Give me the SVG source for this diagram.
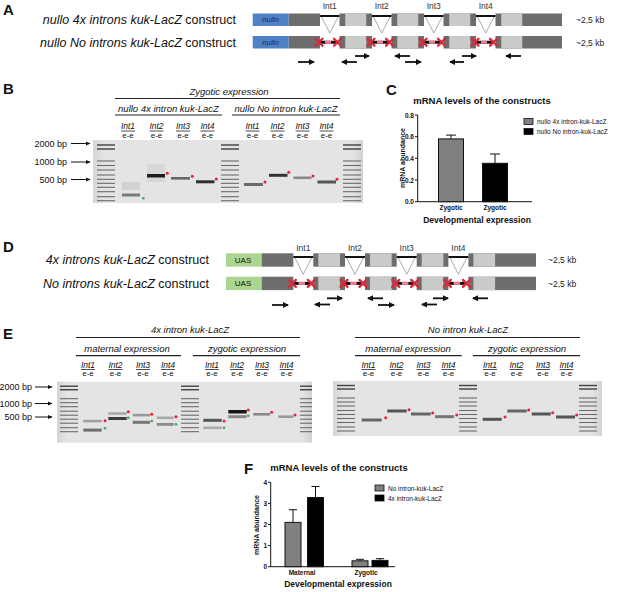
<svg xmlns="http://www.w3.org/2000/svg" width="617" height="592" viewBox="0 0 617 592">
<defs>
<style>
text{font-family:"Liberation Sans",Arial,sans-serif;fill:#111}
.pl{font-size:15px;font-weight:bold}
.cn{font-size:12.5px;text-anchor:end}
.it{font-style:italic}
.kb{font-size:8.5px;fill:#222}
.int{font-size:8.5px;text-anchor:middle;fill:#333}
.dk{fill:#6d6d6d}
.lt{fill:#c9cbc8}
.nul{fill:#4f81c9}
.uas{fill:#acd591}
.bx{font-size:8px;text-anchor:middle}
.il{stroke:#111;stroke-width:2}
.tri{fill:none;stroke:#888;stroke-width:0.7}
.xr{fill:none;stroke:#d9283a;stroke-width:2.4;stroke-linecap:round}
.bl{stroke:#111;stroke-width:3}
.pk{stroke:#e98090;stroke-width:3}
.pr{stroke:#111;stroke-width:1.8;marker-end:url(#ah)}
.hd{font-size:9.5px;font-style:italic;text-anchor:middle}
.rl{stroke:#222;stroke-width:1.2}
.ln{font-size:8.5px;font-style:italic;text-anchor:middle}
.ee{font-size:8px;text-anchor:middle}
.ul{stroke:#222;stroke-width:0.8}
.bp{font-size:9px;text-anchor:end}
.ba{stroke:#111;stroke-width:1;marker-end:url(#ah2)}
.lad line{stroke:#6a6a6a;stroke-width:1.1}
.rd{fill:#e8203c}
.gr{fill:#3aa84e}
.ax{stroke:#111;stroke-width:1;fill:none}
.tk{font-size:6.5px;font-weight:bold;text-anchor:end}
.ttl{font-size:9.5px;font-weight:bold;text-anchor:middle}
.xl{font-size:6.5px;font-weight:bold;text-anchor:middle}
.dev{font-size:8.5px;font-weight:bold;text-anchor:middle}
.lg{font-size:6.5px}
.yl{font-size:7px;font-weight:bold;text-anchor:middle}
.bd{filter:url(#blr)}
</style>
<marker id="ah" markerUnits="userSpaceOnUse" markerWidth="7" markerHeight="6" refX="5" refY="3" orient="auto"><path d="M0,0 L6,3 L0,6 z" fill="#111"/></marker>
<marker id="ah2" markerUnits="userSpaceOnUse" markerWidth="6" markerHeight="5" refX="4.5" refY="2.25" orient="auto"><path d="M0,0 L5,2.25 L0,4.5 z" fill="#111"/></marker>
<filter id="blr" x="-20%" y="-100%" width="140%" height="300%"><feGaussianBlur stdDeviation="0.5"/></filter>
<linearGradient id="gel" x1="0" y1="0" x2="1" y2="0"><stop offset="0" stop-color="#d4d4d4"/><stop offset="0.04" stop-color="#e4e4e4"/><stop offset="0.96" stop-color="#e4e4e4"/><stop offset="1" stop-color="#d2d2d2"/></linearGradient>
<path id="xm" d="M-3.5,-3.5 L3.5,3.5 M-3.5,3.5 L3.5,-3.5"/>
<g id="ladB" class="lad bd"><line x1="0" y1="5" x2="18" y2="5" style="stroke:#404040;stroke-width:1.4"/><line x1="0" y1="9" x2="18" y2="9" style="stroke:#404040;stroke-width:1.4"/><line x1="0" y1="21" x2="18" y2="21"/><line x1="0" y1="25.5" x2="18" y2="25.5"/><line x1="0" y1="30" x2="18" y2="30"/><line x1="0" y1="35" x2="18" y2="35"/><line x1="0" y1="39.3" x2="18" y2="39.3"/><line x1="0" y1="43.3" x2="18" y2="43.3"/><line x1="0" y1="47.3" x2="18" y2="47.3"/><line x1="0" y1="51.7" x2="18" y2="51.7"/><line x1="0" y1="56.7" x2="18" y2="56.7"/><line x1="0" y1="60.7" x2="18" y2="60.7"/></g>
<g id="ladE" class="lad bd"><line x1="0" y1="4.5" x2="18" y2="4.5" style="stroke:#404040;stroke-width:1.4"/><line x1="0" y1="8" x2="18" y2="8" style="stroke:#404040;stroke-width:1.4"/><line x1="0" y1="17" x2="18" y2="17"/><line x1="0" y1="21" x2="18" y2="21"/><line x1="0" y1="25" x2="18" y2="25"/><line x1="0" y1="29.5" x2="18" y2="29.5"/><line x1="0" y1="33.5" x2="18" y2="33.5"/><line x1="0" y1="37.5" x2="18" y2="37.5"/><line x1="0" y1="41.5" x2="18" y2="41.5"/><line x1="0" y1="46" x2="18" y2="46"/><line x1="0" y1="50" x2="18" y2="50"/></g>
</defs>
<rect width="617" height="592" fill="#fff"/>

<!-- ===== Panel A ===== -->
<g id="panelA">
<text class="pl" x="3" y="15">A</text>
<text class="cn" x="236" y="24"><tspan class="it">nullo 4x introns kuk-LacZ</tspan> construct</text>
<text class="cn" x="236" y="46.5"><tspan class="it">nullo No introns kuk-LacZ</tspan> construct</text>
<g id="A-intlabels">
<text class="int" x="329.75" y="9">Int1</text><text class="int" x="381.75" y="9">Int2</text><text class="int" x="433.75" y="9">Int3</text><text class="int" x="485.75" y="9">Int4</text>
</g>
<g id="A-construct1">
<rect class="nul" x="252.7" y="13.5" width="36" height="12.5"/><text class="bx it" x="270.5" y="22.3" style="fill:#1c2c55">nullo</text>
<rect class="dk" x="288.7" y="13.5" width="31.3" height="12.5"/>
<rect class="dk" x="339.5" y="13.5" width="32.5" height="12.5"/><rect class="lt" x="345.25" y="13.5" width="21" height="12.5"/>
<rect class="dk" x="391.5" y="13.5" width="32.5" height="12.5"/><rect class="lt" x="397.25" y="13.5" width="21" height="12.5"/>
<rect class="dk" x="443.5" y="13.5" width="32.5" height="12.5"/><rect class="lt" x="449.25" y="13.5" width="21" height="12.5"/>
<rect class="dk" x="495.5" y="13.5" width="66.5" height="12.5"/><rect class="lt" x="501.25" y="13.5" width="21" height="12.5"/>
<line class="il" x1="320" y1="16" x2="339.5" y2="16"/><line class="il" x1="372" y1="16" x2="391.5" y2="16"/><line class="il" x1="424" y1="16" x2="443.5" y2="16"/><line class="il" x1="476" y1="16" x2="495.5" y2="16"/>
<path class="tri" d="M321.5,17 L329.75,33 L338,17 M373.5,17 L381.75,33 L390,17 M425.5,17 L433.75,33 L442,17 M477.5,17 L485.75,33 L494,17"/>
<text class="kb" x="576" y="23">~2,5 kb</text>
</g>
<g id="A-construct2">
<rect class="nul" x="252.7" y="36" width="36" height="12.5"/><text class="bx it" x="270.5" y="44.8" style="fill:#1c2c55">nullo</text>
<rect class="dk" x="288.7" y="36" width="31.3" height="12.5"/>
<rect class="dk" x="339.5" y="36" width="32.5" height="12.5"/><rect class="lt" x="345.25" y="36" width="21" height="12.5"/>
<rect class="dk" x="391.5" y="36" width="32.5" height="12.5"/><rect class="lt" x="397.25" y="36" width="21" height="12.5"/>
<rect class="dk" x="443.5" y="36" width="32.5" height="12.5"/><rect class="lt" x="449.25" y="36" width="21" height="12.5"/>
<rect class="dk" x="495.5" y="36" width="66.5" height="12.5"/><rect class="lt" x="501.25" y="36" width="21" height="12.5"/>
<line class="bl" x1="319" y1="42.25" x2="337.5" y2="42.25"/><line class="pk" x1="325" y1="42.25" x2="331" y2="42.25"/>
<line class="bl" x1="371" y1="42.25" x2="389.5" y2="42.25"/><line class="pk" x1="377" y1="42.25" x2="383" y2="42.25"/>
<line class="bl" x1="423" y1="42.25" x2="441.5" y2="42.25"/><line class="pk" x1="429" y1="42.25" x2="435" y2="42.25"/>
<line class="bl" x1="475" y1="42.25" x2="493.5" y2="42.25"/><line class="pk" x1="481" y1="42.25" x2="487" y2="42.25"/>
<use href="#xm" class="xr" x="319" y="42.25"/><use href="#xm" class="xr" x="337.5" y="42.25"/>
<use href="#xm" class="xr" x="371" y="42.25"/><use href="#xm" class="xr" x="389.5" y="42.25"/>
<use href="#xm" class="xr" x="423" y="42.25"/><use href="#xm" class="xr" x="441.5" y="42.25"/>
<use href="#xm" class="xr" x="475" y="42.25"/><use href="#xm" class="xr" x="493.5" y="42.25"/>
<text class="kb" x="576" y="45.5">~2,5 kb</text>
</g>
<g id="A-primers">
<line class="pr" x1="298" y1="62" x2="314" y2="62"/>
<line class="pr" x1="357" y1="62" x2="342" y2="62"/>
<line class="pr" x1="355" y1="56" x2="369" y2="56"/>
<line class="pr" x1="410" y1="56" x2="395" y2="56"/>
<line class="pr" x1="405" y1="62" x2="421" y2="62"/>
<line class="pr" x1="464" y1="62" x2="450" y2="62"/>
<line class="pr" x1="462" y1="56" x2="476" y2="56"/>
<line class="pr" x1="521" y1="56" x2="506" y2="56"/>
</g>
</g>

<!-- ===== Panel B ===== -->
<g id="panelB">
<text class="pl" x="3" y="94">B</text>
<text class="hd" x="229" y="95">Zygotic expression</text>
<line class="rl" x1="115" y1="98.5" x2="340" y2="98.5"/>
<text class="hd" x="168.5" y="111.5">nullo 4x intron kuk-LacZ</text>
<line class="rl" x1="115" y1="115" x2="222" y2="115"/>
<text class="hd" x="286" y="111.5">nullo No intron kuk-LacZ</text>
<line class="rl" x1="232" y1="115" x2="340" y2="115"/>
<g id="B-lanes">
<text class="ln" x="128" y="129">Int1</text><line class="ul" x1="121" y1="131" x2="135" y2="131"/><text class="ee" x="128" y="137.5">e-e</text>
<text class="ln" x="156.5" y="129">Int2</text><line class="ul" x1="149.5" y1="131" x2="163.5" y2="131"/><text class="ee" x="156.5" y="137.5">e-e</text>
<text class="ln" x="183" y="129">Int3</text><line class="ul" x1="176" y1="131" x2="190" y2="131"/><text class="ee" x="183" y="137.5">e-e</text>
<text class="ln" x="207.5" y="129">Int4</text><line class="ul" x1="200.5" y1="131" x2="214.5" y2="131"/><text class="ee" x="207.5" y="137.5">e-e</text>
<text class="ln" x="252.5" y="129">Int1</text><line class="ul" x1="245.5" y1="131" x2="259.5" y2="131"/><text class="ee" x="252.5" y="137.5">e-e</text>
<text class="ln" x="277.5" y="129">Int2</text><line class="ul" x1="270.5" y1="131" x2="284.5" y2="131"/><text class="ee" x="277.5" y="137.5">e-e</text>
<text class="ln" x="302.5" y="129">Int3</text><line class="ul" x1="295.5" y1="131" x2="309.5" y2="131"/><text class="ee" x="302.5" y="137.5">e-e</text>
<text class="ln" x="326.5" y="129">Int4</text><line class="ul" x1="319.5" y1="131" x2="333.5" y2="131"/><text class="ee" x="326.5" y="137.5">e-e</text>
</g>
<g id="B-sizes">
<text class="bp" x="67" y="146.5">2000 bp</text><line class="ba" x1="71" y1="143.5" x2="90" y2="143.5"/>
<text class="bp" x="67" y="165">1000 bp</text><line class="ba" x1="71" y1="162" x2="90" y2="162"/>
<text class="bp" x="67" y="182.5">500 bp</text><line class="ba" x1="71" y1="179.5" x2="90" y2="179.5"/>
</g>
<g id="B-gel">
<rect x="93" y="140" width="270" height="63" fill="url(#gel)"/>
<use href="#ladB" x="97" y="140"/><use href="#ladB" x="221" y="140"/><use href="#ladB" x="343" y="140"/>
<g class="bd">
<rect x="122" y="182" width="18" height="8" fill="#d2d2d2"/>
<rect x="122" y="193.5" width="18" height="3" fill="#7a7a7a"/>
<rect x="147" y="164" width="18" height="18" fill="#d8d8d8"/>
<rect x="147" y="174" width="18" height="3.5" fill="#1e1e1e"/>
<rect x="171" y="177" width="19" height="2.6" fill="#666"/>
<rect x="196" y="180.3" width="18.5" height="3" fill="#2e2e2e"/>
<rect x="244" y="183" width="19" height="3" fill="#6a6a6a"/>
<rect x="269" y="173.8" width="18.5" height="3" fill="#333"/>
<rect x="293.5" y="176.5" width="18" height="2.6" fill="#888"/>
<rect x="317.5" y="180.5" width="18.5" height="3" fill="#555"/>
</g>
<circle class="gr" cx="143.3" cy="198.3" r="1.3"/>
<circle class="rd" cx="167.3" cy="173.3" r="1.5"/><circle class="rd" cx="192.3" cy="176.3" r="1.5"/><circle class="rd" cx="216.3" cy="179" r="1.5"/>
<circle class="rd" cx="265" cy="182" r="1.5"/><circle class="rd" cx="288.7" cy="172.3" r="1.5"/><circle class="rd" cx="313" cy="176" r="1.5"/><circle class="rd" cx="337" cy="179.3" r="1.5"/>
</g>
</g>

<!-- ===== Panel C ===== -->
<g id="panelC">
<text class="pl" x="386" y="95">C</text>
<text class="ttl" x="482" y="103.5">mRNA levels of the constructs</text>
<text class="yl" transform="translate(405,158) rotate(-90)">mRNA abundance</text>
<g id="C-axes">
<path class="ax" d="M417.7,115 V201.7 H532"/>
<path class="ax" d="M415,115 H417.7 M415,136.7 H417.7 M415,158.3 H417.7 M415,180 H417.7 M415,201.7 H417.7"/>
<text class="tk" x="414" y="117.5">0.8</text><text class="tk" x="414" y="139.2">0.6</text><text class="tk" x="414" y="160.8">0.4</text><text class="tk" x="414" y="182.5">0.2</text><text class="tk" x="414" y="204.2">0.0</text>
</g>
<g id="C-bars">
<path class="ax" d="M451,138.9 V135.1 M446,135.1 H456"/>
<rect x="438.5" y="138.9" width="25" height="62.8" fill="#808080" stroke="#111" stroke-width="1"/>
<path class="ax" d="M495,163.3 V154 M490,154 H500"/>
<rect x="482.5" y="163.3" width="25" height="38.4" fill="#000" stroke="#111" stroke-width="1"/>
</g>
<text class="xl" x="451" y="210">Zygotic</text><text class="xl" x="495" y="210">Zygotic</text>
<text class="dev" x="477" y="223">Developmental expression</text>
<g id="C-legend">
<rect x="524" y="118.5" width="9" height="6" fill="#808080" stroke="#111" stroke-width="0.8"/><text class="lg" x="537" y="124">nullo 4x intron-kuk-LacZ</text>
<rect x="524" y="128.5" width="9" height="6" fill="#000" stroke="#111" stroke-width="0.8"/><text class="lg" x="537" y="134">nullo No intron-kuk-LacZ</text>
</g>
</g>

<!-- ===== Panel D ===== -->
<g id="panelD">
<text class="pl" x="3" y="252">D</text>
<text class="cn" x="209" y="264"><tspan class="it">4x introns kuk-LacZ</tspan> construct</text>
<text class="cn" x="209" y="287.5"><tspan class="it">No introns kuk-LacZ</tspan> construct</text>
<g id="D-intlabels">
<text class="int" x="303.3" y="251">Int1</text><text class="int" x="355" y="251">Int2</text><text class="int" x="406.7" y="251">Int3</text><text class="int" x="458.4" y="251">Int4</text>
</g>
<g id="D-construct1">
<rect class="uas" x="226" y="253.3" width="35.7" height="13.4"/><text class="bx" x="243" y="262.8">UAS</text>
<rect class="dk" x="261.7" y="253.3" width="31.6" height="13.4"/>
<rect class="dk" x="313.3" y="253.3" width="31.7" height="13.4"/><rect class="lt" x="318.3" y="253.3" width="21.7" height="13.4"/>
<rect class="dk" x="365" y="253.3" width="31.7" height="13.4"/><rect class="lt" x="370" y="253.3" width="21.7" height="13.4"/>
<rect class="dk" x="416.7" y="253.3" width="31.7" height="13.4"/><rect class="lt" x="421.7" y="253.3" width="21.7" height="13.4"/>
<rect class="dk" x="468.4" y="253.3" width="67.6" height="13.4"/><rect class="lt" x="473.4" y="253.3" width="21.7" height="13.4"/>
<line class="il" x1="293.3" y1="257" x2="313.3" y2="257"/><line class="il" x1="345" y1="257" x2="365" y2="257"/><line class="il" x1="396.7" y1="257" x2="416.7" y2="257"/><line class="il" x1="448.4" y1="257" x2="468.4" y2="257"/>
<path class="tri" d="M295,258 L303.3,274.3 L311.6,258 M346.7,258 L355,274.3 L363.3,258 M398.4,258 L406.7,274.3 L415,258 M450.1,258 L458.4,274.3 L466.7,258"/>
<text class="kb" x="548" y="263">~2,5 kb</text>
</g>
<g id="D-construct2">
<rect class="uas" x="226" y="276.7" width="35.7" height="13.4"/><text class="bx" x="243" y="286.2">UAS</text>
<rect class="dk" x="261.7" y="276.7" width="31.6" height="13.4"/>
<rect class="dk" x="313.3" y="276.7" width="31.7" height="13.4"/><rect class="lt" x="318.3" y="276.7" width="21.7" height="13.4"/>
<rect class="dk" x="365" y="276.7" width="31.7" height="13.4"/><rect class="lt" x="370" y="276.7" width="21.7" height="13.4"/>
<rect class="dk" x="416.7" y="276.7" width="31.7" height="13.4"/><rect class="lt" x="421.7" y="276.7" width="21.7" height="13.4"/>
<rect class="dk" x="468.4" y="276.7" width="67.6" height="13.4"/><rect class="lt" x="473.4" y="276.7" width="21.7" height="13.4"/>
<line class="bl" x1="292.3" y1="283.4" x2="311.3" y2="283.4"/><line class="pk" x1="298.5" y1="283.4" x2="305" y2="283.4"/>
<line class="bl" x1="344" y1="283.4" x2="363" y2="283.4"/><line class="pk" x1="350.2" y1="283.4" x2="356.7" y2="283.4"/>
<line class="bl" x1="395.7" y1="283.4" x2="414.7" y2="283.4"/><line class="pk" x1="401.9" y1="283.4" x2="408.4" y2="283.4"/>
<line class="bl" x1="447.4" y1="283.4" x2="466.4" y2="283.4"/><line class="pk" x1="453.6" y1="283.4" x2="460.1" y2="283.4"/>
<use href="#xm" class="xr" x="292.3" y="283.4"/><use href="#xm" class="xr" x="311.3" y="283.4"/>
<use href="#xm" class="xr" x="344" y="283.4"/><use href="#xm" class="xr" x="363" y="283.4"/>
<use href="#xm" class="xr" x="395.7" y="283.4"/><use href="#xm" class="xr" x="414.7" y="283.4"/>
<use href="#xm" class="xr" x="447.4" y="283.4"/><use href="#xm" class="xr" x="466.4" y="283.4"/>
<text class="kb" x="548" y="286.5">~2,5 kb</text>
</g>
<g id="D-primers">
<line class="pr" x1="272" y1="305" x2="288" y2="305"/>
<line class="pr" x1="330" y1="304.5" x2="315" y2="304.5"/>
<line class="pr" x1="327" y1="298.3" x2="342" y2="298.3"/>
<line class="pr" x1="383" y1="298.3" x2="368" y2="298.3"/>
<line class="pr" x1="378" y1="305" x2="394" y2="305"/>
<line class="pr" x1="437" y1="304.5" x2="422" y2="304.5"/>
<line class="pr" x1="433" y1="298.3" x2="448" y2="298.3"/>
<line class="pr" x1="488" y1="298.3" x2="473" y2="298.3"/>
</g>
</g>

<!-- ===== Panel E ===== -->
<g id="panelE">
<text class="pl" x="3" y="339">E</text>
<g id="E-left-head">
<text class="hd" x="190" y="333">4x intron kuk-LacZ</text>
<line class="rl" x1="76" y1="337.5" x2="300" y2="337.5"/>
<text class="hd" x="127" y="351.5">maternal expression</text>
<line class="rl" x1="76" y1="355.7" x2="181" y2="355.7"/>
<text class="hd" x="247" y="351.5">zygotic expression</text>
<line class="rl" x1="193" y1="355.7" x2="300" y2="355.7"/>
<text class="ln" x="88" y="367.5">Int1</text><line class="ul" x1="81" y1="369.5" x2="95" y2="369.5"/><text class="ee" x="88" y="376">e-e</text>
<text class="ln" x="115.5" y="367.5">Int2</text><line class="ul" x1="108.5" y1="369.5" x2="122.5" y2="369.5"/><text class="ee" x="115.5" y="376">e-e</text>
<text class="ln" x="143" y="367.5">Int3</text><line class="ul" x1="136" y1="369.5" x2="150" y2="369.5"/><text class="ee" x="143" y="376">e-e</text>
<text class="ln" x="168" y="367.5">Int4</text><line class="ul" x1="161" y1="369.5" x2="175" y2="369.5"/><text class="ee" x="168" y="376">e-e</text>
<text class="ln" x="212" y="367.5">Int1</text><line class="ul" x1="205" y1="369.5" x2="219" y2="369.5"/><text class="ee" x="212" y="376">e-e</text>
<text class="ln" x="237" y="367.5">Int2</text><line class="ul" x1="230" y1="369.5" x2="244" y2="369.5"/><text class="ee" x="237" y="376">e-e</text>
<text class="ln" x="262" y="367.5">Int3</text><line class="ul" x1="255" y1="369.5" x2="269" y2="369.5"/><text class="ee" x="262" y="376">e-e</text>
<text class="ln" x="286.5" y="367.5">Int4</text><line class="ul" x1="279.5" y1="369.5" x2="293.5" y2="369.5"/><text class="ee" x="286.5" y="376">e-e</text>
</g>
<g id="E-sizes">
<text class="bp" x="32" y="390">2000 bp</text><line class="ba" x1="35" y1="387" x2="52" y2="387"/>
<text class="bp" x="32" y="406.5">1000 bp</text><line class="ba" x1="35" y1="403.5" x2="52" y2="403.5"/>
<text class="bp" x="32" y="420">500 bp</text><line class="ba" x1="35" y1="417" x2="52" y2="417"/>
</g>
<g id="E-left-gel">
<rect x="57" y="381.7" width="255" height="61" fill="url(#gel)"/>
<use href="#ladE" x="60" y="381.7"/><use href="#ladE" x="181" y="381.7"/>
<use href="#ladE" transform="translate(300,381.7) scale(0.67,1)"/>
<g class="bd">
<rect x="83.3" y="419.8" width="18.4" height="2.6" fill="#a0a0a0"/><rect x="83.3" y="428.6" width="18.4" height="3" fill="#6e6e6e"/>
<rect x="108.3" y="412.2" width="18.4" height="2.6" fill="#a8a8a8"/><rect x="108.3" y="417" width="18.4" height="3" fill="#3e3e3e"/>
<rect x="132.7" y="413.8" width="17.3" height="2.6" fill="#999"/><rect x="132.7" y="420.8" width="17.3" height="3" fill="#777"/>
<rect x="156.7" y="416.5" width="17" height="2.6" fill="#aaa"/><rect x="156.7" y="423" width="17" height="2.8" fill="#8a8a8a"/>
<rect x="203.3" y="418.8" width="18.4" height="3" fill="#555"/><rect x="203.3" y="426.5" width="18.4" height="2.6" fill="#aaa"/>
<rect x="228.3" y="410" width="18.4" height="3.5" fill="#151515"/><rect x="228.3" y="415.2" width="18.4" height="3" fill="#888"/>
<rect x="253.3" y="413" width="16.7" height="2.6" fill="#888"/>
<rect x="278.3" y="415.4" width="15" height="2.6" fill="#999"/>
</g>
<circle class="rd" cx="105" cy="420.7" r="1.5"/><circle class="gr" cx="105" cy="428.3" r="1.3"/>
<circle class="rd" cx="128.3" cy="411.7" r="1.5"/><circle class="gr" cx="128.3" cy="417.7" r="1.3"/>
<circle class="rd" cx="151.7" cy="414.3" r="1.5"/><circle class="gr" cx="151.7" cy="421" r="1.3"/>
<circle class="rd" cx="176" cy="416.7" r="1.5"/><circle class="gr" cx="176" cy="424.3" r="1.3"/>
<circle class="rd" cx="224" cy="421" r="1.5"/><circle class="gr" cx="224" cy="427.7" r="1.3"/>
<circle class="rd" cx="248.3" cy="410" r="1.5"/><circle class="gr" cx="248.3" cy="415.7" r="1.3"/>
<circle class="rd" cx="271.7" cy="412.3" r="1.5"/>
<circle class="rd" cx="295" cy="415" r="1.5"/>
</g>
<g id="E-right-head">
<text class="hd" x="468" y="333">No intron kuk-LacZ</text>
<line class="rl" x1="355" y1="337.5" x2="580" y2="337.5"/>
<text class="hd" x="408" y="351.5">maternal expression</text>
<line class="rl" x1="355" y1="355.7" x2="461.7" y2="355.7"/>
<text class="hd" x="527" y="351.5">zygotic expression</text>
<line class="rl" x1="473" y1="355.7" x2="580" y2="355.7"/>
<text class="ln" x="368.5" y="367.5">Int1</text><line class="ul" x1="361.5" y1="369.5" x2="375.5" y2="369.5"/><text class="ee" x="368.5" y="376">e-e</text>
<text class="ln" x="396.5" y="367.5">Int2</text><line class="ul" x1="389.5" y1="369.5" x2="403.5" y2="369.5"/><text class="ee" x="396.5" y="376">e-e</text>
<text class="ln" x="423.5" y="367.5">Int3</text><line class="ul" x1="416.5" y1="369.5" x2="430.5" y2="369.5"/><text class="ee" x="423.5" y="376">e-e</text>
<text class="ln" x="448.5" y="367.5">Int4</text><line class="ul" x1="441.5" y1="369.5" x2="455.5" y2="369.5"/><text class="ee" x="448.5" y="376">e-e</text>
<text class="ln" x="490" y="367.5">Int1</text><line class="ul" x1="483" y1="369.5" x2="497" y2="369.5"/><text class="ee" x="490" y="376">e-e</text>
<text class="ln" x="516.5" y="367.5">Int2</text><line class="ul" x1="509.5" y1="369.5" x2="523.5" y2="369.5"/><text class="ee" x="516.5" y="376">e-e</text>
<text class="ln" x="543" y="367.5">Int3</text><line class="ul" x1="536" y1="369.5" x2="550" y2="369.5"/><text class="ee" x="543" y="376">e-e</text>
<text class="ln" x="566.5" y="367.5">Int4</text><line class="ul" x1="559.5" y1="369.5" x2="573.5" y2="369.5"/><text class="ee" x="566.5" y="376">e-e</text>
</g>
<g id="E-right-gel">
<rect x="333" y="381" width="269" height="55" fill="url(#gel)"/>
<use href="#ladE" x="337" y="381"/><use href="#ladE" x="459" y="381"/><use href="#ladE" x="579" y="381"/>
<g class="bd">
<rect x="361.7" y="418.5" width="20" height="3" fill="#666"/>
<rect x="387.3" y="409.5" width="19.4" height="3" fill="#555"/>
<rect x="411" y="412.5" width="19.7" height="3" fill="#666"/>
<rect x="435" y="415.2" width="19" height="3" fill="#777"/>
<rect x="482.7" y="417.8" width="19" height="3" fill="#555"/>
<rect x="507.3" y="409.5" width="19.4" height="3" fill="#666"/>
<rect x="531.7" y="412.5" width="19" height="3" fill="#555"/>
<rect x="556" y="415.5" width="19" height="3" fill="#555"/>
</g>
<circle class="rd" cx="385.7" cy="417.7" r="1.5"/><circle class="rd" cx="409" cy="409.7" r="1.5"/><circle class="rd" cx="432.7" cy="413" r="1.5"/><circle class="rd" cx="456.7" cy="415" r="1.5"/>
<circle class="rd" cx="505" cy="417" r="1.5"/><circle class="rd" cx="528.7" cy="410" r="1.5"/><circle class="rd" cx="552.7" cy="412.7" r="1.5"/><circle class="rd" cx="576.7" cy="415" r="1.5"/>
</g>
</g>

<!-- ===== Panel F ===== -->
<g id="panelF">
<text class="pl" x="244" y="474">F</text>
<text class="ttl" x="339" y="470.5">mRNA levels of the constructs</text>
<text class="yl" transform="translate(259,525) rotate(-90)">mRNA abundance</text>
<g id="F-axes">
<path class="ax" d="M270.7,482.3 V566.7 H395"/>
<path class="ax" d="M268,482.3 H270.7 M268,503.4 H270.7 M268,524.5 H270.7 M268,545.6 H270.7 M268,566.7 H270.7"/>
<text class="tk" x="267" y="484.8">4</text><text class="tk" x="267" y="505.9">3</text><text class="tk" x="267" y="527">2</text><text class="tk" x="267" y="548.1">1</text><text class="tk" x="267" y="569.2">0</text>
</g>
<g id="F-bars">
<path class="ax" d="M293,522.4 V509.7 M289,509.7 H297"/>
<rect x="285" y="522.4" width="16" height="44.3" fill="#808080" stroke="#111" stroke-width="1"/>
<path class="ax" d="M315.5,497.5 V486.5 M311.5,486.5 H319.5"/>
<rect x="307.5" y="497.5" width="16" height="69.2" fill="#000" stroke="#111" stroke-width="1"/>
<path class="ax" d="M360,560.8 V559.3 M356,559.3 H364"/>
<rect x="352" y="560.8" width="16" height="5.9" fill="#808080" stroke="#111" stroke-width="1"/>
<path class="ax" d="M380,560.4 V558.7 M376,558.7 H384"/>
<rect x="372" y="560.4" width="16" height="6.3" fill="#000" stroke="#111" stroke-width="1"/>
</g>
<text class="xl" x="302" y="575">Maternal</text><text class="xl" x="366" y="575">Zygotic</text>
<text class="dev" x="338" y="586.5">Developmental expression</text>
<g id="F-legend">
<rect x="375" y="485" width="9" height="6" fill="#808080" stroke="#111" stroke-width="0.8"/><text class="lg" x="388" y="490.5">No intron-kuk-LacZ</text>
<rect x="375" y="495" width="9" height="6" fill="#000" stroke="#111" stroke-width="0.8"/><text class="lg" x="388" y="500.5">4x intron-kuk-LacZ</text>
</g>
</g>
</svg>
